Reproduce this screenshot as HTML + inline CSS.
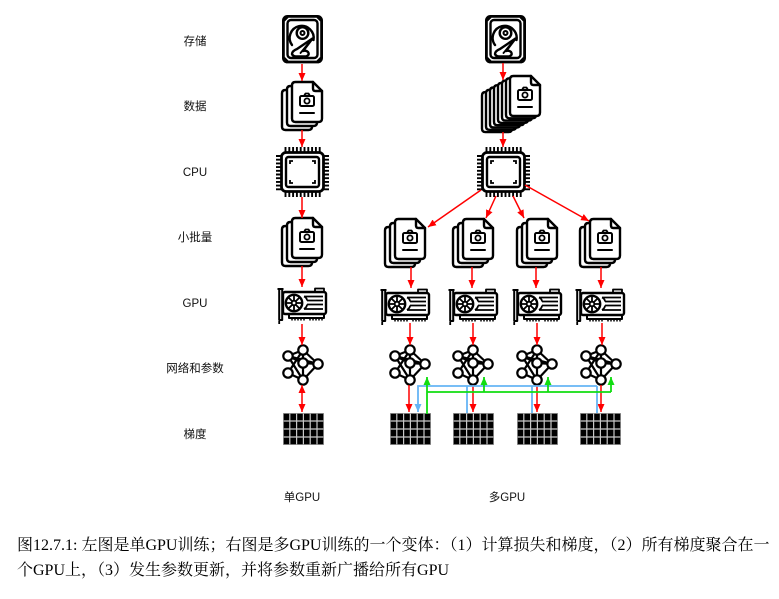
<!DOCTYPE html>
<html><head><meta charset="utf-8"><style>
html,body{margin:0;padding:0;background:#fff;}
#wrap{position:relative;width:779px;height:599px;overflow:hidden;background:#fff;}
svg{position:absolute;left:0;top:0;}
.cap{position:absolute;left:17px;font-family:"Liberation Serif","Noto Serif CJK SC",serif;font-size:16px;color:#000;white-space:nowrap;line-height:20px;}
</style></head><body><div id="wrap">
<svg width="779" height="599" viewBox="0 0 779 599" xmlns="http://www.w3.org/2000/svg">
<defs>
<marker id="ar" markerUnits="userSpaceOnUse" markerWidth="8" markerHeight="7" refX="8" refY="3.5" orient="auto"><path d="M0,0 L8,3.5 L0,7 z" fill="#ff0000"/></marker>
<marker id="ar2" markerUnits="userSpaceOnUse" markerWidth="8" markerHeight="7" refX="8" refY="3.5" orient="auto-start-reverse"><path d="M0,0 L8,3.5 L0,7 z" fill="#ff0000"/></marker>
<marker id="ab" markerUnits="userSpaceOnUse" markerWidth="8" markerHeight="7" refX="8" refY="3.5" orient="auto"><path d="M0,0 L8,3.5 L0,7 z" fill="#66b5f5"/></marker>
<marker id="ag" markerUnits="userSpaceOnUse" markerWidth="8" markerHeight="7" refX="8" refY="3.5" orient="auto"><path d="M0,0 L8,3.5 L0,7 z" fill="#11dd11"/></marker>

<g id="hdd" fill="none" stroke="#000" stroke-linejoin="round" stroke-linecap="round">
 <rect x="1.4" y="1.4" width="38.2" height="45.6" rx="4" fill="#fff" stroke-width="2.8"/>
 <rect x="5.5" y="5" width="30" height="38" rx="3.5" stroke-width="2.4"/>
 <path d="M2.8,2.8 h3 l-3,3z M38.2,2.8 h-3 l3,3z M2.8,45.6 h3 l-3,-3z M38.2,45.6 h-3 l3,-3z" fill="#000" stroke-width="1"/>
 <path d="M10,30 A12,12 0 1 1 31.5,25" stroke-width="2.4"/>
 <circle cx="20.5" cy="18" r="5.8" stroke-width="2.4"/>
 <circle cx="20.5" cy="18" r="2" stroke-width="2"/>
 <path d="M30.5,23.5 L15,34 Q10,36 10,39 Q11,41.5 14,41.5 L24,41.5 Q28,40 26,37 Q24,35 21,36 Z" fill="#fff" stroke-width="2.4"/>
 <path d="M28,26.5 L18.5,38" stroke-width="1.8"/>
</g>

<g id="page" fill="#fff" stroke="#000" stroke-width="2.4" stroke-linejoin="round">
 <path d="M3.5,0 H21 L30,9 V36.5 Q30,40 26.5,40 H3.5 Q0,40 0,36.5 V3.5 Q0,0 3.5,0 Z"/>
</g>
<g id="fpage" fill="none" stroke="#000" stroke-width="2.4" stroke-linejoin="round" stroke-linecap="round">
 <path d="M3.5,0 H21 L30,9 V36.5 Q30,40 26.5,40 H3.5 Q0,40 0,36.5 V3.5 Q0,0 3.5,0 Z" fill="#fff"/>
 <path d="M21,0 V6.5 Q21,9 23.5,9 H30"/>
 <rect x="8" y="14" width="14" height="10" rx="1.5" stroke-width="2"/>
 <path d="M12,14 l1.5,-2.5 h3 l1.5,2.5" stroke-width="1.8"/>
 <circle cx="15" cy="19" r="2.6" stroke-width="1.8"/>
 <path d="M8,31 H22" stroke-width="2"/>
</g>
<g id="docs">
 <use href="#page" x="0" y="8"/>
 <use href="#page" x="5" y="4"/>
 <use href="#fpage" x="10" y="0"/>
</g>

<g id="cpu" fill="none" stroke="#000" stroke-linecap="butt">
 <g stroke-width="1.9">
  <path d="M9.5,0v6 M13.3,0v6 M17.1,0v6 M20.9,0v6 M24.7,0v6 M28.5,0v6 M32.3,0v6 M36.1,0v6 M39.9,0v6 M43.7,0v6"/>
  <path d="M9.5,44v6 M13.3,44v6 M17.1,44v6 M20.9,44v6 M24.7,44v6 M28.5,44v6 M32.3,44v6 M36.1,44v6 M39.9,44v6 M43.7,44v6"/>
  <path d="M0,9h6 M0,12.7h6 M0,16.4h6 M0,20.1h6 M0,23.8h6 M0,27.5h6 M0,31.2h6 M0,34.9h6 M0,38.6h6 M0,42.3h6"/>
  <path d="M47,9h6 M47,12.7h6 M47,16.4h6 M47,20.1h6 M47,23.8h6 M47,27.5h6 M47,31.2h6 M47,34.9h6 M47,38.6h6 M47,42.3h6"/>
 </g>
 <rect x="5.5" y="5.5" width="42" height="39" rx="4.5" fill="#fff" stroke-width="2.8"/>
 <rect x="10" y="10" width="33" height="30" rx="2.5" stroke-width="2.4"/>
 <path d="M14,17 v-3 h3 M36,14 h3 v3 M14,33 v3 h3 M36,36 h3 v-3" stroke-width="1.8"/>
</g>

<g id="gpu" fill="none" stroke="#000" stroke-linejoin="round">
 <path d="M0.5,3 H6.5 M2.2,3 V34 H5.2 V3" fill="#fff" stroke-width="2"/>
 <path d="M2.2,35 v3" stroke-width="1.8"/>
 <rect x="38" y="2.5" width="9" height="3.5" stroke-width="1.8"/>
 <rect x="6" y="6" width="43" height="22" rx="2" fill="#fff" stroke-width="2.4"/>
 <circle cx="17" cy="17" r="8.2" stroke-width="2.4"/>
 <circle cx="17" cy="17" r="2.3" stroke-width="1.8"/>
 <path d="M17,9.5v4.5 M17,20v4.5 M9.5,17h4.5 M20,17h4.5 M11.7,11.7l3.2,3.2 M19.1,19.1l3.2,3.2 M22.3,11.7l-3.2,3.2 M11.7,22.3l3.2,-3.2" stroke-width="1.8"/>
 <path d="M27,10.5 H46 M30,14.5 H46 M30,18.5 H46 M27,23 H46 M27,10.5 Q30,12 30,14.5 M27,23 Q30,21 30,18.5" stroke-width="1.8"/>
 <path d="M12,28 V32 H47 V28" stroke-width="2"/>
 <path d="M15,32v2.5 M18,32v2.5 M21,32v2.5 M24,32v2.5 M27,32v2.5 M33,32v2.5 M36,32v2.5 M39,32v2.5 M42,32v2.5 M45,32v2.5" stroke-width="1.5"/>
</g>

<g id="net" stroke="#000" stroke-width="2.2" fill="#fff">
 <path d="M20,5 L5,11 M20,5 L20,18 M20,5 L35,19 M20,5 L5,28 M5,11 L20,18 M5,11 L35,19 M20,18 L35,19 M20,18 L20,35 M5,28 L20,35 M35,19 L20,35 M5,11 L20,35" fill="none"/>
 <circle cx="20" cy="5" r="4.7"/>
 <circle cx="5" cy="11" r="4.7"/>
 <circle cx="20" cy="18" r="4.7"/>
 <circle cx="35" cy="19" r="4.7"/>
 <circle cx="5" cy="28" r="4.7"/>
 <circle cx="20" cy="35" r="4.7"/>
</g>

<g id="grid">
 <rect x="0" y="0" width="41" height="32" fill="#000"/>
 <path d="M6.8,0v32 M13.6,0v32 M20.4,0v32 M27.2,0v32 M34,0v32 M0,8h41 M0,16h41 M0,24h41" stroke="#c8c8c8" stroke-width="1.2"/>
 <rect x="0.4" y="0.4" width="40.2" height="31.2" fill="none" stroke="#999" stroke-width="0.8"/>
</g>
</defs>

<!-- labels -->
<g font-family="'Liberation Sans','Noto Sans CJK SC',sans-serif" font-size="11.5" fill="#111" text-anchor="middle">
 <text x="195" y="45">存储</text>
 <text x="195" y="110">数据</text>
 <text x="195" y="176">CPU</text>
 <text x="195" y="241">小批量</text>
 <text x="195" y="307">GPU</text>
 <text x="195" y="372">网络和参数</text>
 <text x="195" y="438">梯度</text>
 <text x="302" y="501">单GPU</text>
 <text x="507" y="501">多GPU</text>
</g>

<!-- single GPU column -->
<use href="#hdd" x="282" y="15"/>
<use href="#docs" x="282" y="82"/>
<use href="#cpu" x="276" y="147"/>
<use href="#docs" x="282" y="218"/>
<use href="#gpu" x="277" y="286"/>
<use href="#net" x="283" y="345"/>
<use href="#grid" x="283" y="413"/>
<g stroke="#ff0000" stroke-width="1.5" fill="none">
 <path d="M302,64 V81" marker-end="url(#ar)"/>
 <path d="M302,130 V147" marker-end="url(#ar)"/>
 <path d="M302,197 V218" marker-end="url(#ar)"/>
 <path d="M302,266 V287" marker-end="url(#ar)"/>
 <path d="M302,324 V345" marker-end="url(#ar)"/>
 <path d="M302,385 V412" marker-start="url(#ar2)" marker-end="url(#ar2)"/>
</g>

<!-- multi GPU column -->
<use href="#hdd" x="485" y="15"/>
<use href="#page" x="482" y="92.1"/>
<use href="#page" x="486" y="89.8"/>
<use href="#page" x="490" y="87.5"/>
<use href="#page" x="494" y="85.2"/>
<use href="#page" x="498" y="82.9"/>
<use href="#page" x="502" y="80.6"/>
<use href="#page" x="506" y="78.3"/>
<use href="#fpage" x="510" y="76"/>
<use href="#cpu" x="477" y="147"/>

<use href="#docs" x="385" y="219"/>
<use href="#docs" x="453" y="219"/>
<use href="#docs" x="517" y="219"/>
<use href="#docs" x="580" y="219"/>

<use href="#gpu" x="380" y="287"/>
<use href="#gpu" x="448" y="287"/>
<use href="#gpu" x="512" y="287"/>
<use href="#gpu" x="575" y="287"/>

<use href="#net" x="390" y="345"/>
<use href="#net" x="453" y="345"/>
<use href="#net" x="517" y="345"/>
<use href="#net" x="581" y="345"/>

<use href="#grid" x="390" y="413"/>
<use href="#grid" x="453" y="413"/>
<use href="#grid" x="517" y="413"/>
<use href="#grid" x="580" y="413"/>

<g stroke="#ff0000" stroke-width="1.5" fill="none">
 <path d="M503,63 V80" marker-end="url(#ar)"/>
 <path d="M503,132 V147" marker-end="url(#ar)"/>
 <path d="M481,190 L428,227" marker-end="url(#ar)"/>
 <path d="M496,196 L486,218" marker-end="url(#ar)"/>
 <path d="M513,196 L524,218" marker-end="url(#ar)"/>
 <path d="M525,185 L589,221" marker-end="url(#ar)"/>
 <path d="M411,267 V288" marker-end="url(#ar)"/>
 <path d="M472,267 V288" marker-end="url(#ar)"/>
 <path d="M536,267 V288" marker-end="url(#ar)"/>
 <path d="M601,267 V288" marker-end="url(#ar)"/>
 <path d="M410,323 V345" marker-end="url(#ar)"/>
 <path d="M473,323 V345" marker-end="url(#ar)"/>
 <path d="M537,323 V345" marker-end="url(#ar)"/>
 <path d="M602,323 V345" marker-end="url(#ar)"/>
 <path d="M409,385 V412" marker-end="url(#ar)"/>
 <path d="M473,385 V412" marker-end="url(#ar)"/>
 <path d="M537,385 V412" marker-end="url(#ar)"/>
 <path d="M601,385 V412" marker-end="url(#ar)"/>
</g>
<!-- blue aggregation -->
<g stroke="#66b5f5" stroke-width="1.8" fill="none">
 <path d="M467,413 V386 M532,413 V386 M597,413 V386"/>
 <path d="M597,386 H418 V412" marker-end="url(#ab)"/>
</g>
<!-- green broadcast -->
<g stroke="#11dd11" stroke-width="1.8" fill="none">
 <path d="M427,414 V377" marker-end="url(#ag)"/>
 <path d="M427,392 H611"/>
 <path d="M484,392 V377" marker-end="url(#ag)"/>
 <path d="M548,392 V377" marker-end="url(#ag)"/>
 <path d="M611,392 V377" marker-end="url(#ag)"/>
</g>
</svg>
<div class="cap" style="top:536px;">图12.7.1: 左图是单GPU训练；右图是多GPU训练的一个变体：（1）计算损失和梯度，（2）所有梯度聚合在一</div>
<div class="cap" style="top:561px;">个GPU上，（3）发生参数更新，并将参数重新广播给所有GPU</div>
</div></body></html>
